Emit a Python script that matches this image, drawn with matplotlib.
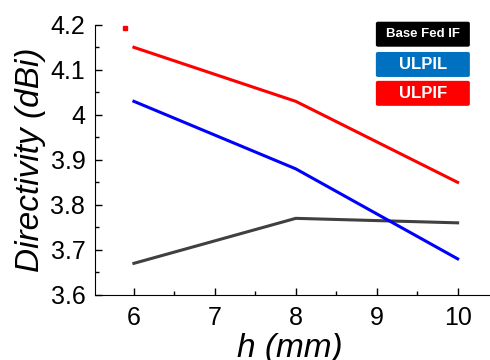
import matplotlib
matplotlib.use('Agg')
import matplotlib.pyplot as plt
from matplotlib.patches import FancyBboxPatch
from matplotlib.ticker import MultipleLocator

plt.rcParams['font.family'] = ['Liberation Sans', 'DejaVu Sans']

h = [6, 8, 10]
base_fed = [3.67, 3.77, 3.76]
ulpil = [4.03, 3.88, 3.68]
ulpif = [4.15, 4.03, 3.85]

labels = ['Base Fed IF', 'ULPIL', 'ULPIF']
colors = ['#000000', '#0070C0', '#FF0000']
line_colors = ['#404040', '#0000FF', '#FF0000']

fig = plt.figure(figsize=(4.9, 3.6), dpi=100)
ax = fig.add_axes([0.194, 0.181, 0.806, 0.75])

for y, c in zip([base_fed, ulpil, ulpif], line_colors):
    ax.plot(h, y, color=c, linewidth=2.2)

# stray red mark near the top left
ax.plot([5.89], [4.193], marker='s', markersize=2.2, color='red', linestyle='none')

ax.set_xlim(5.52, 10.4)
ax.set_ylim(3.6, 4.2)
ax.xaxis.set_major_locator(MultipleLocator(1))
ax.xaxis.set_minor_locator(MultipleLocator(0.5))
ax.yaxis.set_minor_locator(MultipleLocator(0.05))
ax.set_yticks([3.6, 3.7, 3.8, 3.9, 4.0, 4.1, 4.2])
ax.set_yticklabels(['3.6', '3.7', '3.8', '3.9', '4', '4.1', '4.2'])
ax.tick_params(which='both', direction='in', labelsize=18, width=1)
ax.tick_params(which='major', length=5)
ax.tick_params(which='minor', length=3)
ax.tick_params(axis='x', pad=8)
ax.tick_params(axis='y', pad=7)
ax.spines['top'].set_visible(False)
ax.spines['right'].set_visible(False)

ax.set_xlabel('h (mm)', fontsize=24, style='italic')
ax.set_ylabel('Directivity (dBi)', fontsize=24, style='italic')
ax.xaxis.set_label_coords(0.494, -0.14)
ax.yaxis.set_label_coords(-0.125, 0.5)

# legend as coloured boxes
box_y = [0.919, 0.807, 0.70]
sizes = [9.5, 12, 12]
for lab, c, yb, fs in zip(labels, colors, box_y, sizes):
    rect = FancyBboxPatch((0.711, yb), 0.238, 0.0926, boxstyle='round,pad=0,rounding_size=0.006',
                          transform=ax.transAxes, facecolor=c, edgecolor='none', clip_on=False)
    ax.add_patch(rect)
    ax.text(0.83, yb + 0.046, lab, transform=ax.transAxes, color='white',
            fontsize=fs, fontweight='bold', ha='center', va='center')

fig.savefig('out.png', dpi=100)
